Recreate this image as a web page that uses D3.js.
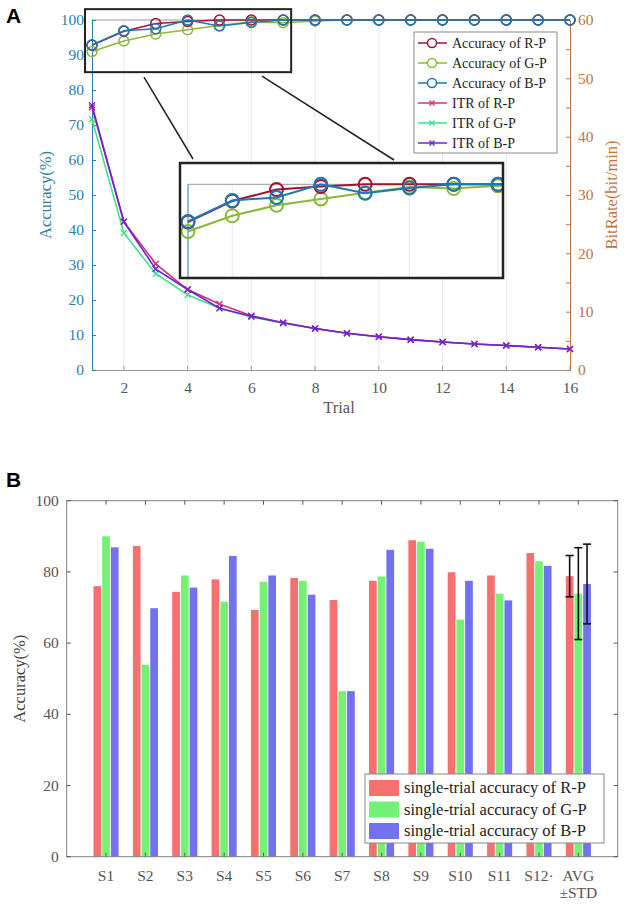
<!DOCTYPE html>
<html><head><meta charset="utf-8">
<script src="https://cdn.jsdelivr.net/npm/d3@7/dist/d3.min.js"></script>
<style>body{margin:0;background:#fff}svg{display:block}</style>
</head><body>
<svg id="c" width="630" height="905"></svg>
<script>
// ---------- Panel A data ----------
const trials = [1,2,3,4,5,6,7,8,9,10,11,12,13,14,15,16];
const accR = [92.8,96.8,99.0,99.6,100,100,100,100,100,100,100,100,100,100,100,100];
const accG = [91.0,94.0,96.0,97.2,98.4,99.5,99.2,99.7,100,100,100,100,100,100,100,100];
const accB = [92.9,96.9,97.5,100,98.3,99.3,100,100,100,100,100,100,100,100,100,100];
const itrR = [45.0,25.4,18.2,13.8,11.3,9.3,8.1,7.1,6.3,5.7,5.2,4.8,4.45,4.2,3.9,3.6];
const itrG = [43.0,23.5,16.5,12.9,10.6,9.1,8.0,7.1,6.3,5.7,5.2,4.8,4.45,4.2,3.9,3.6];
const itrB = [45.4,25.4,17.3,13.8,10.6,9.2,8.1,7.1,6.3,5.7,5.2,4.8,4.45,4.2,3.9,3.6];
const accTicks = [0,10,20,30,40,50,60,70,80,90,100];
const rateTicks = [0,10,20,30,40,50,60];
const trialTicks = [2,4,6,8,10,12,14,16];
const legendA = ["Accuracy of R-P","Accuracy of G-P","Accuracy of B-P","ITR of R-P","ITR of G-P","ITR of B-P"];
const zoomTrials = [0.78, 7.25];
const zoomAcc = [85.1, 103.1];

// ---------- Panel B data ----------
const subjects = ["S1","S2","S3","S4","S5","S6","S7","S8","S9","S10","S11","S12·","AVG"];
const singleR = [76.0,87.3,74.4,77.9,69.3,78.3,72.1,77.5,88.9,79.9,79.0,85.3,78.8];
const singleG = [90.0,53.9,79.0,71.6,77.2,77.5,46.5,78.7,88.5,66.6,73.9,83.0,73.9];
const singleB = [86.9,69.8,75.6,84.5,79.0,73.6,46.5,86.2,86.5,77.5,72.0,81.7,76.6];
const stdRGB = [5.8,12.9,11.2];
const bTicks = [0,20,40,60,80,100];
const legendB = ["single-trial accuracy of R-P","single-trial accuracy of G-P","single-trial accuracy of B-P"];

const serif = "'Liberation Serif','Times New Roman',serif";
const svg = d3.select("#c");

// ================= PANEL A =================
const cAccR="#a2142f", cAccG="#8ab83a", cAccB="#1d79b5";
const cItrR="#d3307a", cItrG="#3fe28c", cItrB="#6f22d6";
const cLeft="#2e7fa6", cRight="#c4733a";

const x = d3.scaleLinear([1,16],[92,570]);
const yL = d3.scaleLinear([0,100],[370,20]);
const yR = d3.scaleLinear([0,60],[370,20]);

svg.append("text").attr("x",6).attr("y",23).attr("font-family","Arial,Liberation Sans,sans-serif")
  .attr("font-weight","bold").attr("font-size",21).text("A");

const gA = svg.append("g");
gA.selectAll(".grid").data(trialTicks.filter(t=>t<16)).join("line")
  .attr("x1",d=>x(d)).attr("x2",d=>x(d)).attr("y1",yL(0)).attr("y2",yL(100))
  .attr("stroke","#e8e8e8").attr("stroke-width",1);
gA.append("line").attr("x1",x(1)).attr("x2",x(16)).attr("y1",yL(100)).attr("y2",yL(100)).attr("stroke","#9a9a9a");
const xAxis = d3.axisBottom(x).tickValues(trialTicks).tickSize(0).tickPadding(12).tickFormat(d3.format("d"));
const gx = gA.append("g").attr("transform",`translate(0,${yL(0)})`).call(xAxis);
gx.select(".domain").attr("stroke","#9a9a9a");
gx.selectAll("text").attr("font-family",serif).attr("font-size",15.5).attr("fill","#555");
gA.selectAll(".bt").data(trialTicks).join("line").attr("x1",d=>x(d)).attr("x2",d=>x(d))
  .attr("y1",yL(0)).attr("y2",yL(0)-4).attr("stroke","#9a9a9a");
const yAxisL = d3.axisLeft(yL).tickValues(accTicks).tickSize(-4).tickPadding(8);
const gl = gA.append("g").attr("transform",`translate(${x(1)},0)`).call(yAxisL);
gl.select(".domain").attr("stroke",cLeft);
gl.selectAll(".tick line").attr("stroke",cLeft);
gl.selectAll("text").attr("font-family",serif).attr("font-size",15.5).attr("fill",cLeft);
const gr = gA.append("g").attr("transform",`translate(${x(16)},0)`)
  .call(d3.axisRight(yR).tickValues(d3.range(0,61,5)).tickSize(-4).tickPadding(8).tickFormat(d=>d%10===0?d:""));
gr.select(".domain").attr("stroke",cRight);
gr.selectAll(".tick line").attr("stroke",cRight);
gr.selectAll("text").attr("font-family",serif).attr("font-size",15.5).attr("fill",cRight);
svg.append("text").attr("transform",`translate(51,${(yL(0)+yL(100))/2}) rotate(-90)`).attr("text-anchor","middle")
  .attr("font-family",serif).attr("font-size",16.5).attr("fill",cLeft).text("Accuracy(%)");
svg.append("text").attr("transform",`translate(617,${(yL(0)+yL(100))/2}) rotate(-90)`).attr("text-anchor","middle")
  .attr("font-family",serif).attr("font-size",16.5).attr("fill",cRight).text("BitRate(bit/min)");
svg.append("text").attr("x",(x(1)+x(16))/2+8).attr("y",413).attr("text-anchor","middle")
  .attr("font-family",serif).attr("font-size",16.5).attr("fill","#555").text("Trial");

function drawCross(g, px, py, s, color){
  g.append("path").attr("d",`M${px-s},${py-s}L${px+s},${py+s}M${px-s},${py+s}L${px+s},${py-s}`)
   .attr("stroke",color).attr("stroke-width",1.3).attr("fill","none");
}
const itrSeries = [[itrG,cItrG],[itrR,cItrR],[itrB,cItrB]];
itrSeries.forEach(([vals,col])=>{
  const line = d3.line().x((d,i)=>x(trials[i])).y(d=>yR(d));
  gA.append("path").datum(vals).attr("d",line).attr("fill","none").attr("stroke",col).attr("stroke-width",1.6);
  vals.forEach((v,i)=>drawCross(gA,x(trials[i]),yR(v),3,col));
});
const accSeries = [[accG,cAccG],[accR,cAccR],[accB,cAccB]];
function drawAcc(g, xs, ys, r, sw, n){
  accSeries.forEach(([vals,col])=>{
    const vv = vals.slice(0,n);
    const line = d3.line().x((d,i)=>xs(trials[i])).y(d=>ys(d));
    g.append("path").datum(vv).attr("d",line).attr("fill","none").attr("stroke",col).attr("stroke-width",sw);
    g.selectAll(null).data(vv).join("circle").attr("cx",(d,i)=>xs(trials[i])).attr("cy",d=>ys(d))
      .attr("r",r).attr("fill","none").attr("stroke",col).attr("stroke-width",sw);
  });
}
drawAcc(gA, x, yL, 5, 1.5, 16);

gA.append("rect").attr("x",x(zoomTrials[0])).attr("y",yL(zoomAcc[1]))
  .attr("width",x(zoomTrials[1])-x(zoomTrials[0])).attr("height",yL(zoomAcc[0])-yL(zoomAcc[1]))
  .attr("fill","none").attr("stroke","#222").attr("stroke-width",2);

const inset = {x:180,y:163,w:323,h:115};
const xi = d3.scaleLinear([1,8],[188,498]);
const yi = d3.scaleLinear([90,100],[236.7,184.3]);
gA.append("line").attr("x1",144).attr("y1",yL(zoomAcc[0])+5).attr("x2",193).attr("y2",159).attr("stroke","#222").attr("stroke-width",1.5);
gA.append("line").attr("x1",262).attr("y1",yL(zoomAcc[0])+4).attr("x2",394).attr("y2",160).attr("stroke","#222").attr("stroke-width",1.5);
svg.append("clipPath").attr("id","ic").append("rect").attr("x",inset.x).attr("y",inset.y).attr("width",inset.w).attr("height",inset.h);
const gI = gA.append("g");
gI.append("rect").attr("x",inset.x).attr("y",inset.y).attr("width",inset.w).attr("height",inset.h).attr("fill","#fff");
const gIc = gI.append("g").attr("clip-path","url(#ic)");
gIc.selectAll(".ig").data([2,4,6,8]).join("line").attr("x1",d=>xi(d)).attr("x2",d=>xi(d))
  .attr("y1",yi(100)).attr("y2",inset.y+inset.h).attr("stroke","#e8e8e8");
gIc.append("line").attr("x1",xi(1)).attr("x2",inset.x+inset.w).attr("y1",yi(100)).attr("y2",yi(100)).attr("stroke","#9a9a9a");
gIc.append("line").attr("x1",xi(1)).attr("x2",xi(1)).attr("y1",yi(100)).attr("y2",inset.y+inset.h).attr("stroke",cLeft);
drawAcc(gIc, xi, yi, 6.5, 2, 9);
gI.append("rect").attr("x",inset.x).attr("y",inset.y).attr("width",inset.w).attr("height",inset.h)
  .attr("fill","none").attr("stroke","#222").attr("stroke-width",2.5);

const lg = gA.append("g");
lg.append("rect").attr("x",414).attr("y",32).attr("width",143).attr("height",121).attr("fill","#fff").attr("stroke","#8a8a8a");
const legCols = [cAccR,cAccG,cAccB,cItrR,cItrG,cItrB];
legendA.forEach((t,i)=>{
  const yy = 43 + i*20;
  lg.append("line").attr("x1",418).attr("x2",447).attr("y1",yy).attr("y2",yy).attr("stroke",legCols[i]).attr("stroke-width",1.5);
  if(i<3) lg.append("circle").attr("cx",432).attr("cy",yy).attr("r",4.5).attr("fill","#fff").attr("stroke",legCols[i]).attr("stroke-width",1.5);
  else drawCross(lg,432,yy,2.5,legCols[i]);
  lg.append("text").attr("x",452).attr("y",yy+4.5).attr("font-family",serif).attr("font-size",14).attr("fill","#222").text(t);
});

// ================= PANEL B =================
svg.append("text").attr("x",6).attr("y",487).attr("font-family","Arial,Liberation Sans,sans-serif")
  .attr("font-weight","bold").attr("font-size",21).text("B");
const xb = d3.scaleLinear([0,14],[66.7,617.7]);
const yb = d3.scaleLinear([0,100],[856.7,500.7]);
const gB = svg.append("g");
const barCols = ["#f77070","#74f274","#7171f2"];
const series = [singleR,singleG,singleB];
const off = 0.221, bw = 0.196;
series.forEach((vals,k)=>{
  gB.selectAll(null).data(vals).join("rect")
    .attr("x",(d,i)=>xb(i+1+(k-1)*off-bw/2)).attr("width",xb(bw)-xb(0))
    .attr("y",d=>yb(d)).attr("height",d=>yb(0)-yb(d)).attr("fill",barCols[k]);
});
const ai = subjects.length-1;
series.forEach((vals,k)=>{
  const cx = xb(ai+1+(k-1)*off);
  const m = vals[ai], s = stdRGB[k];
  gB.append("line").attr("x1",cx).attr("x2",cx).attr("y1",yb(m+s)).attr("y2",yb(m-s)).attr("stroke","#111").attr("stroke-width",1.6);
  [m+s,m-s].forEach(v=>gB.append("line").attr("x1",cx-4).attr("x2",cx+4).attr("y1",yb(v)).attr("y2",yb(v)).attr("stroke","#111").attr("stroke-width",1.6));
});
const axc = "#808080";
gB.append("rect").attr("x",xb(0)).attr("y",yb(100)).attr("width",xb(14)-xb(0)).attr("height",yb(0)-yb(100))
  .attr("fill","none").attr("stroke",axc);
const cats = d3.range(1,14);
gB.selectAll(".tb").data(cats).join("line").attr("x1",d=>xb(d)).attr("x2",d=>xb(d)).attr("y1",yb(0)).attr("y2",yb(0)-4).attr("stroke","#3a7a3a");
gB.selectAll(".tt").data(cats).join("line").attr("x1",d=>xb(d)).attr("x2",d=>xb(d)).attr("y1",yb(100)).attr("y2",yb(100)+4).attr("stroke","#555");
gB.selectAll(".tl").data(bTicks).join("line").attr("x1",xb(0)).attr("x2",xb(0)+4).attr("y1",d=>yb(d)).attr("y2",d=>yb(d)).attr("stroke","#555");
gB.selectAll(".tr").data(bTicks).join("line").attr("x1",xb(14)).attr("x2",xb(14)-4).attr("y1",d=>yb(d)).attr("y2",d=>yb(d)).attr("stroke","#555");
gB.selectAll(".yl").data(bTicks).join("text").attr("x",xb(0)-8).attr("y",d=>yb(d)+5).attr("text-anchor","end")
  .attr("font-family",serif).attr("font-size",15.5).attr("fill","#555").text(d=>d);
gB.selectAll(".xl").data(subjects).join("text").attr("x",(d,i)=>xb(i+1)).attr("y",881).attr("text-anchor","middle")
  .attr("font-family",serif).attr("font-size",15.5).attr("fill","#555").text(d=>d);
gB.append("text").attr("x",xb(13)).attr("y",898).attr("text-anchor","middle")
  .attr("font-family",serif).attr("font-size",15.5).attr("fill","#555").text("±STD");
svg.append("text").attr("transform",`translate(25,${(yb(0)+yb(100))/2}) rotate(-90)`).attr("text-anchor","middle")
  .attr("font-family",serif).attr("font-size",16.5).attr("fill","#444").text("Accuracy(%)");
const lb = gB.append("g");
lb.append("rect").attr("x",365).attr("y",774).attr("width",239).attr("height",69).attr("fill","#fff").attr("stroke","#888");
legendB.forEach((t,i)=>{
  const yy = 780 + i*21.5;
  lb.append("rect").attr("x",369).attr("y",yy).attr("width",30).attr("height",16).attr("fill",barCols[i]);
  lb.append("text").attr("x",404).attr("y",yy+13).attr("font-family",serif).attr("font-size",16.5).attr("fill","#222").text(t);
});
</script>
</body></html>
